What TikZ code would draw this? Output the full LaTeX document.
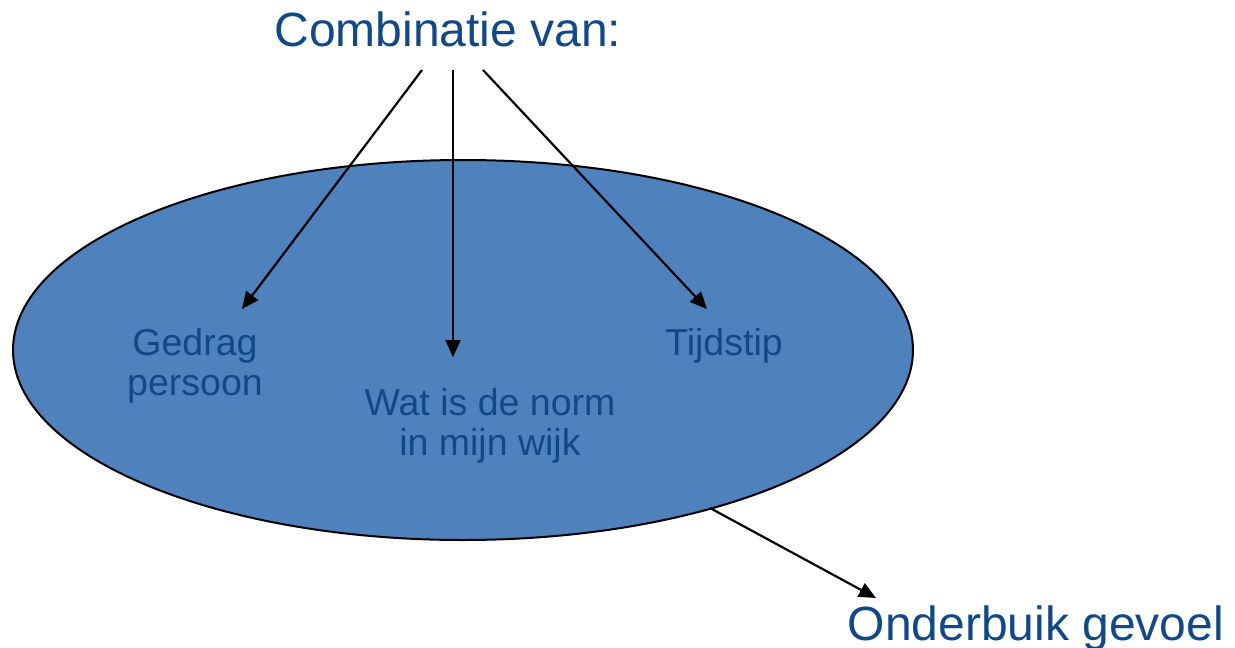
\documentclass[tikz,border=0pt]{standalone}
\usepackage{fontspec}
\setmainfont{Liberation Sans}
\usetikzlibrary{arrows.meta,shapes.geometric}
\definecolor{txtblue}{RGB}{16,72,136}
\definecolor{ellblue}{RGB}{79,129,189}
\tikzset{
  big/.style={text=txtblue,font=\fontsize{48}{56}\selectfont,inner sep=0pt},
  small/.style={text=txtblue,font=\fontsize{37.5}{39.5}\selectfont,inner sep=0pt,align=center},
  conn/.style={draw=black,line width=2.2pt,-{Triangle[length=17pt,width=15pt]}}
}
\begin{document}
\begin{tikzpicture}[x=1pt,y=-1pt]
\useasboundingbox (0,0) rectangle (1235,648);
\node[ellipse,draw=black,line width=2pt,fill=ellblue,minimum width=900pt,minimum height=380pt,inner sep=0pt] (ell) at (463,350) {};
\node[big,anchor=base] (title) at (448,46) {Combinatie van:};
\node[big,anchor=base] (onder) at (1036,640) {Onderbuik gevoel};
\node[small,anchor=base] (ged) at (195,395) {Gedrag\\persoon};
\node[small,anchor=base] (tijd) at (724,355) {Tijdstip};
\node[small,anchor=base] (norm) at (490,455) {Wat is de norm\\in mijn wijk};
\coordinate (s1) at (422,70);
\coordinate (s2) at (453,70);
\coordinate (s3) at (483,70);
\coordinate (e1) at (242,309);
\coordinate (e2) at (453,357);
\coordinate (e3) at (707,309);
\coordinate (s4) at (710,508);
\coordinate (e4) at (876,598);
\draw[conn] (s1) -- (e1);
\draw[conn] (s2) -- (e2);
\draw[conn] (s3) -- (e3);
\draw[conn] (s4) -- (e4);
\end{tikzpicture}
\end{document}
